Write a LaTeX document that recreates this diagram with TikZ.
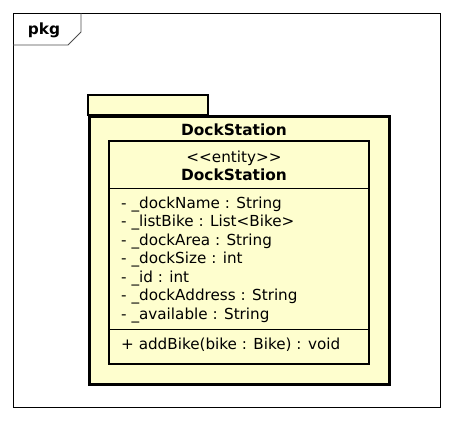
\documentclass[tikz,border=0pt]{standalone}
\usepackage{fontspec}
\setmainfont{DejaVu Sans}
\definecolor{umlfill}{HTML}{FEFECE}
\begin{document}
\begin{tikzpicture}[x=1pt,y=-1pt,
  txt/.style={inner sep=0pt,font=\fontsize{15.2}{17}\selectfont},
  attr/.style={txt,anchor=west},
  bold/.style={inner sep=0pt,font=\fontsize{15.4}{17}\selectfont\bfseries}]
\useasboundingbox (0,0) rectangle (453,421);
% outer frame
\node[draw,line width=0.8pt,minimum width=427pt,minimum height=394pt,anchor=north west,inner sep=0pt] (frame) at (13,13) {};
\draw[line width=0.8pt,draw=black!70] (13,45) -- (68,45) -- (81,32) -- (81,13);
\node[bold] (pkg) at (44,30) {pkg};
% package folder
\draw[line width=2.5pt,fill=umlfill] (88,95) rectangle (208,115);
\node[draw,line width=2.5pt,fill=umlfill,minimum width=300pt,minimum height=268pt,anchor=north west,inner sep=0pt] (folder) at (88,115) {};
\node[bold] (pkgname) at (234,130) {DockStation};
% class
\node[draw,line width=2.2pt,fill=umlfill,minimum width=260pt,minimum height=223pt,anchor=north west,inner sep=0pt] (cls) at (108,140) {};
\node[txt] (stereo) at (234,158) {<{}<entity>{}>};
\node[bold] (clsname) at (234,175) {DockStation};
\draw[line width=0.8pt] (cls.west |- 0,188) -- (cls.east |- 0,188);
\node[attr] (a1) at (121,205) {- \_dockName : String};
\node[attr] (a2) at (121,223) {- \_listBike : List<Bike>};
\node[attr] (a3) at (121,241.5) {- \_dockArea : String};
\node[attr] (a4) at (121,260) {- \_dockSize : int};
\node[attr] (a5) at (121,278.5) {- \_id : int};
\node[attr] (a6) at (121,297) {- \_dockAddress : String};
\node[attr] (a7) at (121,316) {- \_available : String};
\draw[line width=0.8pt] (cls.west |- 0,329) -- (cls.east |- 0,329);
\node[attr] (m1) at (121,345) {+ addBike(bike : Bike) : void};
\end{tikzpicture}
\end{document}
